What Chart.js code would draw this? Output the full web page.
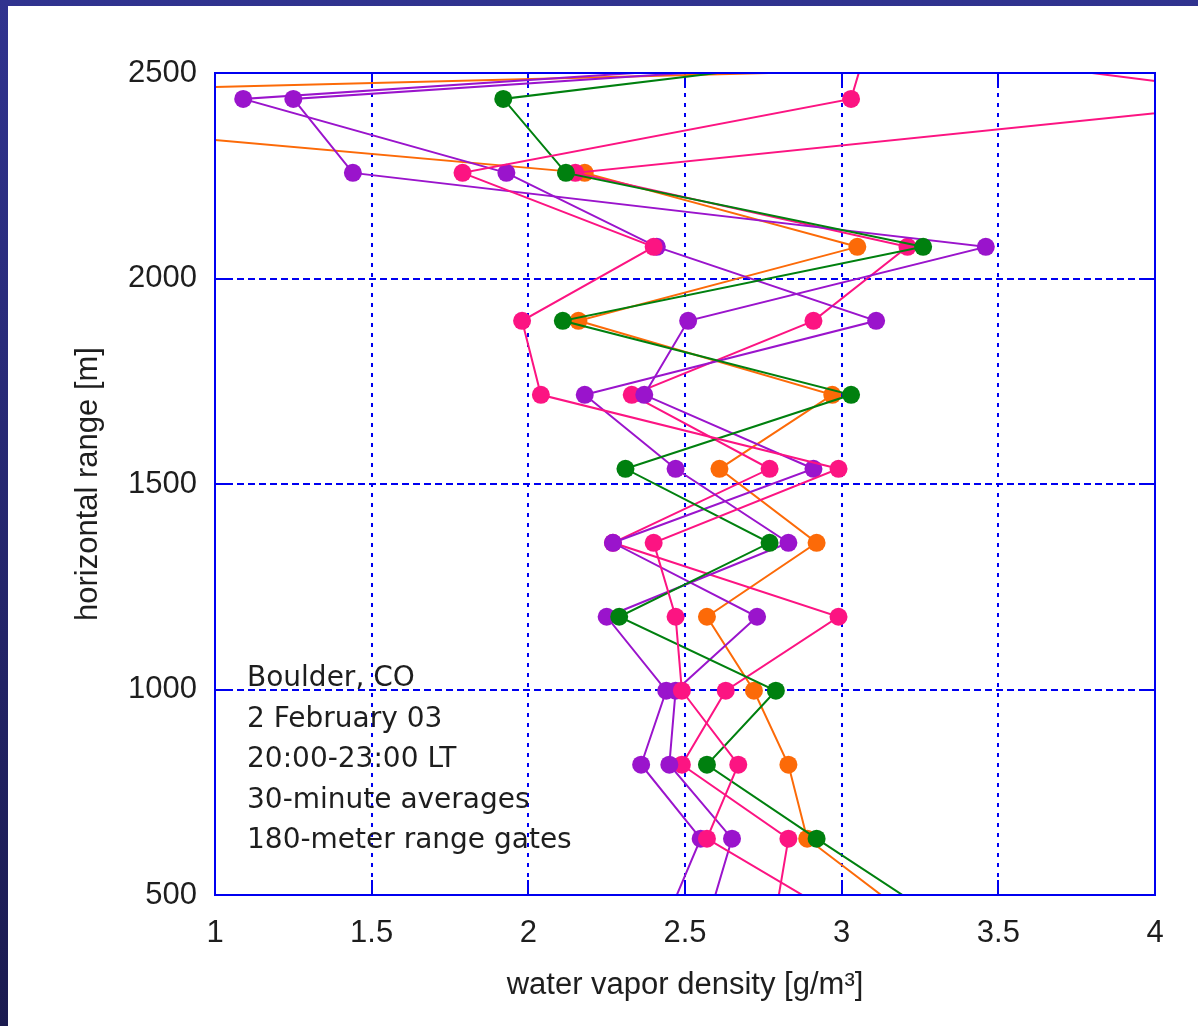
<!DOCTYPE html>
<html>
<head>
<meta charset="utf-8">
<script src="https://cdn.jsdelivr.net/npm/chart.js@4.4.1/dist/chart.umd.min.js"></script>
<style>
html,body{margin:0;padding:0;width:1198px;height:1026px;overflow:hidden;background:linear-gradient(#30338f,#1b1b50);}
#box{position:absolute;left:8px;top:6px;width:1190px;height:1020px;background:#ffffff;}
canvas{display:block;}
</style>
</head>
<body>
<div id="box"><canvas id="c" width="1190" height="1020"></canvas></div>
<script>
// range gate heights [m] (top gate and bottom gate lie outside the plotted range)
const heights = [2617, 2437, 2257, 2077, 1897, 1717, 1537, 1357, 1177, 997, 817, 637, 457];

// water vapor density [g/m^3], one profile per 30-minute average
const pink1   = [3.10, 3.03, 1.79, 2.40, 1.98, 2.04, 2.99, 2.40, 2.47, 2.49, 2.67, 2.57, 2.97];
const green1  = [3.87, 1.92, 2.12, 3.26, 2.11, 3.03, 2.31, 2.77, 2.29, 2.79, 2.57, 2.92, 3.28];
const purpleA = [4.83, 1.25, 1.44, 3.46, 2.51, 2.37, 2.91, 2.27, 2.73, 2.47, 2.45, 2.65, 2.58];
const purpleB = [4.66, 1.09, 1.93, 2.41, 3.11, 2.18, 2.47, 2.83, 2.25, 2.44, 2.36, 2.55, 2.45];
const pink2   = [2.59, 4.45, 2.15, 3.21, 2.91, 2.33, 2.77, 2.27, 2.99, 2.63, 2.49, 2.83, 2.79];
const orange1 = [8.80, -0.48, 2.18, 3.05, 2.16, 2.97, 2.61, 2.92, 2.57, 2.72, 2.83, 2.89, 3.20];

const xTickValues = [1, 1.5, 2, 2.5, 3, 3.5, 4];
const xTickLabels = ['1', '1.5', '2', '2.5', '3', '3.5', '4'];
const yTickValues = [500, 1000, 1500, 2000, 2500];
const yTickLabels = ['500', '1000', '1500', '2000', '2500'];

const noteLines = ['Boulder, CO', '2 February 03', '20:00-23:00 LT', '30-minute averages', '180-meter range gates'];

const seriesList = [
  {name: 'pink 1',   values: pink1,   color: '#fc1482'},
  {name: 'green',    values: green1,  color: '#00800f'},
  {name: 'purple A', values: purpleA, color: '#9a14cc'},
  {name: 'purple B', values: purpleB, color: '#9a14cc'},
  {name: 'pink 2',   values: pink2,   color: '#fc1482'},
  {name: 'orange',   values: orange1, color: '#fc6a08'}
];

const BLUE = '#0000f0';
const frame = {
  id: 'frame',
  beforeDatasetsDraw(chart) {
    const {ctx, chartArea: a, scales: {x, y}} = chart;
    ctx.save();
    ctx.strokeStyle = BLUE;
    ctx.lineWidth = 2;
    ctx.setLineDash([4, 6]);
    x.ticks.forEach(t => {
      const px = Math.round(x.getPixelForValue(t.value));
      if (px <= a.left + 2 || px >= a.right - 2) return;
      ctx.beginPath(); ctx.moveTo(px, a.top); ctx.lineTo(px, a.bottom); ctx.stroke();
    });
    ctx.setLineDash([7, 4]);
    y.ticks.forEach(t => {
      const py = Math.round(y.getPixelForValue(t.value));
      if (py <= a.top + 2 || py >= a.bottom - 2) return;
      ctx.beginPath(); ctx.moveTo(a.left, py); ctx.lineTo(a.right, py); ctx.stroke();
    });
    ctx.setLineDash([]);
    const L = 15;
    x.ticks.forEach(t => {
      const px = Math.round(x.getPixelForValue(t.value));
      ctx.beginPath();
      ctx.moveTo(px, a.top); ctx.lineTo(px, a.top + L);
      ctx.moveTo(px, a.bottom); ctx.lineTo(px, a.bottom - L);
      ctx.stroke();
    });
    y.ticks.forEach(t => {
      const py = Math.round(y.getPixelForValue(t.value));
      ctx.beginPath();
      ctx.moveTo(a.left, py); ctx.lineTo(a.left + L, py);
      ctx.moveTo(a.right, py); ctx.lineTo(a.right - L, py);
      ctx.stroke();
    });
    ctx.restore();
  },
  afterDatasetsDraw(chart) {
    const {ctx, chartArea: a} = chart;
    ctx.save();
    ctx.strokeStyle = BLUE;
    ctx.lineWidth = 2;
    ctx.strokeRect(a.left, a.top, a.right - a.left, a.bottom - a.top);
    ctx.fillStyle = '#1e1e1e';
    ctx.font = '28px "DejaVu Sans"';
    ctx.textAlign = 'left';
    ctx.textBaseline = 'alphabetic';
    noteLines.forEach((s, i) => ctx.fillText(s, a.left + 32, a.top + 613 + i * 40.5));
    ctx.restore();
  }
};

const datasets = seriesList.map(s => ({
  label: s.name,
  data: heights.map((h, i) => ({x: s.values[i], y: h})),
  showLine: true,
  borderColor: s.color,
  backgroundColor: s.color,
  borderWidth: 2,
  pointRadius: 9,
  pointHoverRadius: 9,
  pointBorderWidth: 0,
  pointBackgroundColor: s.color,
  tension: 0,
  clip: 0
}));

const tickFont = {family: '"Liberation Sans", Arial, sans-serif', size: 31};

new Chart(document.getElementById('c'), {
  type: 'scatter',
  data: {datasets},
  options: {
    responsive: false,
    animation: false,
    events: [],
    layout: {padding: {left: 0, top: 67, right: 43, bottom: 0}},
    plugins: {legend: {display: false}, tooltip: {enabled: false}},
    scales: {
      x: {
        type: 'linear', min: 1, max: 4,
        afterBuildTicks: s => { s.ticks = xTickValues.map(v => ({value: v})); },
        afterFit: s => { s.height = 131; },
        ticks: {
          callback: v => xTickLabels[xTickValues.indexOf(v)] ?? '',
          font: tickFont, color: '#1e1e1e', padding: 20, maxRotation: 0, autoSkip: false
        },
        grid: {display: false, drawTicks: false},
        border: {display: false},
        title: {
          display: true, text: 'water vapor density [g/m³]',
          font: tickFont, color: '#1e1e1e', padding: {top: 0, bottom: 22}
        }
      },
      y: {
        type: 'linear', min: 500, max: 2500,
        afterBuildTicks: s => { s.ticks = yTickValues.map(v => ({value: v})); },
        afterFit: s => { s.width = 207; },
        ticks: {
          callback: v => yTickLabels[yTickValues.indexOf(v)] ?? '',
          font: tickFont, color: '#1e1e1e', padding: 18, autoSkip: false
        },
        grid: {display: false, drawTicks: false},
        border: {display: false},
        title: {
          display: true, text: 'horizontal range [m]',
          font: tickFont, color: '#1e1e1e', padding: {top: 62, bottom: 0}
        }
      }
    }
  },
  plugins: [frame]
});
</script>
</body>
</html>
